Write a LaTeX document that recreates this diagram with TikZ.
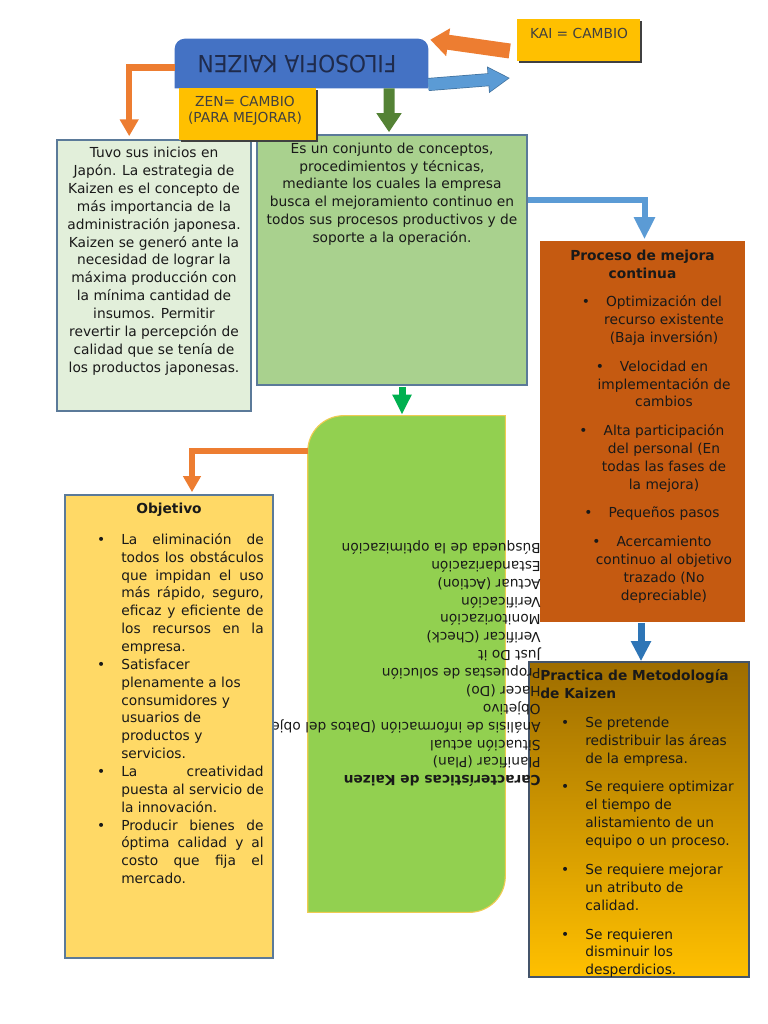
\documentclass[tikz,border=0pt]{standalone}
\usepackage{fontspec}
\setmainfont{DejaVu Sans}
\usepackage{graphicx}
\usepackage{tikz}
\usetikzlibrary{arrows.meta,calc,shadows}

\definecolor{azulfilo}{HTML}{4472C4}
\definecolor{tintafilo}{HTML}{1F2B4C}
\definecolor{oro}{HTML}{FFC000}
\definecolor{oroosc}{HTML}{9E6D00}
\definecolor{verdepal}{HTML}{E2EFDA}
\definecolor{verdemed}{HTML}{A9D18E}
\definecolor{verdelima}{HTML}{92D050}
\definecolor{bordelima}{HTML}{EFCB52}
\definecolor{ladrillo}{HTML}{C55A11}
\definecolor{amarillo}{HTML}{FFD966}
\definecolor{bordecaja}{HTML}{5B7A99}
\definecolor{bordeprac}{HTML}{44546A}
\definecolor{naranja}{HTML}{ED7D31}
\definecolor{verdeosc}{HTML}{548235}
\definecolor{verdevivo}{HTML}{00B050}
\definecolor{azulclaro}{HTML}{5B9BD5}
\definecolor{azulmed}{HTML}{2E75B6}
\definecolor{azulborde}{HTML}{41719C}

\newcommand{\vineta}{\leavevmode\llap{\textbullet\hspace{11.4pt}}}

\begin{document}
\begin{tikzpicture}[x=0.025cm, y=-0.025cm, font=\fontsize{9.8}{12.7}\selectfont,
    caja/.style={rectangle, inner sep=0pt, line width=1.1pt, draw=bordecaja},
    rotulo/.style={rectangle, inner sep=0pt, fill=oro, drop shadow={shadow xshift=0.04cm, shadow yshift=-0.04cm, fill=black!75, opacity=1}},
    ancla/.style={rectangle, inner sep=0pt, draw=none},
    texto/.style={inner sep=0pt, anchor=north, align=center, text=black!90},
    negrita/.style={font=\fontsize{9.8}{12.7}\selectfont\bfseries}]

    \useasboundingbox (0,0) rectangle (768,1024);

    % Nodes {inicio, concepto, proceso, practica, kaizen, filo, kai, zen, objetivo}
    \node [caja, fill=verdepal, minimum width=4.85cm, minimum height=6.775cm]    (inicio)   at (154,275.5) {};
    \node [caja, fill=verdemed, minimum width=6.75cm, minimum height=6.25cm]     (concepto) at (392,260)   {};
    \node [caja, draw=none, fill=ladrillo, minimum width=5.125cm, minimum height=9.525cm] (proceso) at (642.5,431.5) {};
    \node [caja, draw=bordeprac, top color=oroosc, bottom color=oro, minimum width=5.5cm, minimum height=7.875cm] (practica) at (639,819.5) {};
    \node [ancla, minimum width=4.925cm, minimum height=12.4cm]                  (kaizen)   at (406.5,664) {};
    \node [ancla, minimum width=6.325cm, minimum height=1.225cm]                 (filo)     at (301.5,63.5) {};

    \filldraw [fill=verdelima, draw=bordelima, line width=0.8pt] (kaizen.north east) -- ([xshift=0.9cm]kaizen.north west)
        arc [start angle=90, end angle=180, radius=0.9cm] -- (kaizen.south west) -- ([xshift=-0.9cm]kaizen.south east)
        arc [start angle=270, end angle=360, radius=0.9cm] -- cycle;
    \fill [azulfilo] (filo.south west) -- ([yshift=-0.25cm]filo.north west)
        arc [start angle=180, end angle=90, radius=0.25cm] -- ([xshift=-0.25cm]filo.north east)
        arc [start angle=90, end angle=0, radius=0.25cm] -- (filo.south east) -- cycle;

    \node [rotulo, minimum width=3.075cm, minimum height=1.05cm] (kai) at (578.5,40)  {};
    \node [rotulo, minimum width=3.425cm, minimum height=1.3cm]  (zen) at (247.5,114) {};

    % Texts
    \node [rotate=180, inner sep=0pt, text=tintafilo, font=\fontsize{16.8}{19}\selectfont] (filoT) at (297,64) {\scalebox{0.92}[1]{FILOSOFIA KAIZEN}};
    \node [texto, text=black!75] (kaiT) at (579,25.5) {\strut KAI = CAMBIO};
    \node [texto, text=black!75, font=\fontsize{9.8}{11.4}\selectfont] (zenT) at (245,94.5) {\strut ZEN= CAMBIO\\ (PARA MEJORAR)};

    \node [texto] (inicioT) at (154,145) {\strut Tuvo sus inicios en\\ Japón. La estrategia de\\ Kaizen es el concepto de\\
        más importancia de la\\ administración japonesa.\\ Kaizen se generó ante la\\ necesidad de lograr la\\
        máxima producción con\\ la mínima cantidad de\\ insumos. Permitir\\ revertir la percepción de\\
        calidad que se tenía de\\ los productos japonesas.};
    \node [texto] (conceptoT) at (392,140.5) {\strut Es un conjunto de conceptos,\\ procedimientos y técnicas,\\
        mediante los cuales la empresa\\ busca el mejoramiento continuo en\\ todos sus procesos productivos y de\\
        soporte a la operación.};

    \node [texto, negrita] (procesoT) at (642.5,248) {\strut Proceso de mejora\\ continua};
    \node [texto] (procesoL) at (664,294) {\strut\vineta Optimización del\\ recurso existente\\ (Baja inversión)\\[7.7pt]
        \vineta Velocidad en\\ implementación de\\ cambios\\[7.7pt]
        \vineta Alta participación\\ del personal (En\\ todas las fases de\\ la mejora)\\[7.7pt]
        \vineta Pequeños pasos\\[7.7pt]
        \vineta Acercamiento\\ continuo al objetivo\\ trazado (No\\ depreciable)};

    \begin{scope}
        \clip (practica.north west) rectangle (practica.south east);
        \node [texto, negrita, anchor=north west, align=left] (practicaT) at (540,668) {\strut Practica de Metodología\\ de Kaizen};
        \node [texto, anchor=north west, align=left] (practicaL) at (585,714.5) {\strut\vineta Se pretende\\ redistribuir las áreas\\ de la empresa.\\[7.7pt]
            \vineta Se requiere optimizar\\ el tiempo de\\ alistamiento de un\\ equipo o un proceso.\\[8.2pt]
            \vineta Se requiere mejorar\\ un atributo de\\ calidad.\\[7.7pt]
            \vineta Se requieren\\ disminuir los\\ desperdicios.};
    \end{scope}

    \node [texto, rotate=180, anchor=north west, align=left] (kaizenT) at (541,788.5) {\strut\textbf{Características de Kaizen}\\
        Planificar (Plan)\\ Situación actual\\ Análisis de información (Datos del objetivo)\\ Objetivo\\ Hacer (Do)\\
        Propuestas de solución\\ Just Do it\\ Verificar (Check)\\ Monitorización\\ Verificación\\ Actuar (Action)\\
        Estandarización\\ Búsqueda de la optimización};

    \node [caja, fill=amarillo, minimum width=5.2cm, minimum height=11.575cm] (objetivo) at (169,726.5) {};
    \node [texto, negrita] (objetivoT) at (169,501) {\strut Objetivo};
    \node [texto, anchor=north west, align=justify, text width=3.56cm] (objetivoL) at (121,531.5) {\setlength{\parindent}{0pt}\tolerance=10000\hbadness=10000
        \strut\vineta La eliminación de\linebreak todos los obstáculos\linebreak que impidan el uso\linebreak más rápido, seguro,\linebreak
        eficaz y eficiente de\linebreak los recursos en la\linebreak empresa.\par
        \vineta Satisfacer\newline plenamente a los\newline consumidores y\newline usuarios de\newline productos y\newline servicios.\par
        \vineta La creatividad\linebreak puesta al servicio de\linebreak la innovación.\par
        \vineta Producir bienes de\linebreak óptima calidad y al\linebreak costo que fija el\linebreak mercado.\par};

    % Paths
    \coordinate (flechafin) at (510,78);
    \draw [naranja, line width=0.375cm, -{Triangle[length=0.45cm, width=0.675cm]}] ($(kai.west)+(-7,11)$) -- ($(filo.north east)+(2,1)$);
    \draw [azulborde, line width=0.325cm, -{Triangle[length=0.55cm, width=0.625cm]}] ($(filo.east)+(0,21)$) -- (flechafin);
    \draw [azulclaro, line width=0.29cm, shorten >=0.035cm, -{Triangle[length=0.497cm, width=0.565cm]}] ($(filo.east)+(0,21)$) -- (flechafin);
    \draw [naranja, line width=0.16cm, -{Triangle[length=0.42cm, width=0.45cm]}] ($(filo.west)+(0,4)$) -| ($(inicio.north west)+(73,-3)$);
    \draw [verdeosc, line width=0.275cm, -{Triangle[length=0.475cm, width=0.6cm]}] ($(filo.south)+(87.5,0)$) -- ($(concepto.north)+(-3,-2)$);
    \draw [azulclaro, line width=0.15cm, -{Triangle[length=0.55cm, width=0.5cm]}] ($(concepto.east)+(0,-60)$) -| ($(proceso.north)+(2,-1)$);
    \draw [azulmed, line width=0.175cm, -{Triangle[length=0.5cm, width=0.475cm]}] ($(proceso.south)+(-1.5,0)$) -- ($(practica.north)+(2,0)$);
    \draw [verdevivo, line width=0.175cm, -{Triangle[length=0.5cm, width=0.45cm]}] ($(concepto.south)+(10,1)$) -- ($(kaizen.north)+(-4.5,-1)$);
    \draw [naranja, line width=0.15cm, -{Triangle[length=0.4cm, width=0.425cm]}] ($(kaizen.north west)+(0,35)$) -| ($(objetivo.north)+(23,-2)$);

\end{tikzpicture}
\end{document}
